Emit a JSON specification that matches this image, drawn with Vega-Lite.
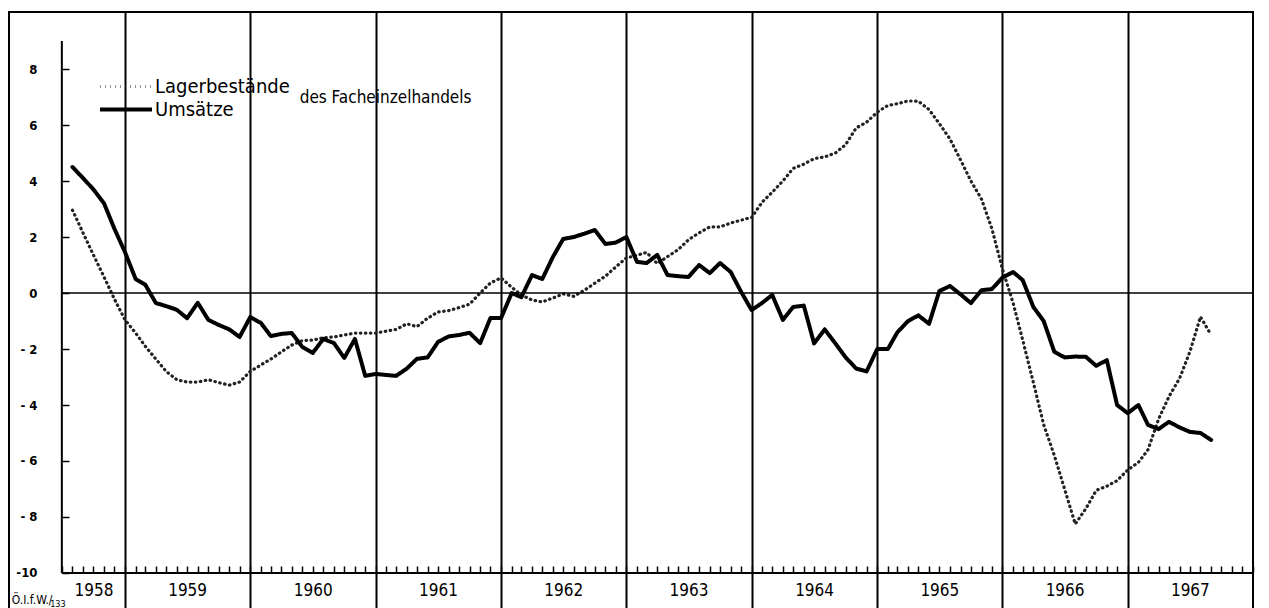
{
  "$schema": "https://vega.github.io/schema/vega-lite/v6.json",
  "width": 1244,
  "height": 600,
  "autosize": "none",
  "padding": {"left": 9, "top": 12, "right": 16, "bottom": 0},
  "background": "white",
  "config": {
    "view": {"stroke": "black", "strokeWidth": 2},
    "text": {"font": "DejaVu Sans Condensed, DejaVu Sans"}
  },
  "datasets": {
    "main": [
      {"date": "1958-08-01", "Lagerbestände": 2.96, "Umsätze": 4.5},
      {"date": "1958-09-01", "Lagerbestände": 2.14, "Umsätze": 4.1},
      {"date": "1958-10-01", "Lagerbestände": 1.36, "Umsätze": 3.7},
      {"date": "1958-11-01", "Lagerbestände": 0.57, "Umsätze": 3.2},
      {"date": "1958-12-01", "Lagerbestände": -0.21, "Umsätze": 2.3},
      {"date": "1959-01-01", "Lagerbestände": -0.96, "Umsätze": 1.46},
      {"date": "1959-02-01", "Lagerbestände": -1.43, "Umsätze": 0.5},
      {"date": "1959-03-01", "Lagerbestände": -1.9, "Umsätze": 0.3},
      {"date": "1959-04-01", "Lagerbestände": -2.36, "Umsätze": -0.36},
      {"date": "1959-05-01", "Lagerbestände": -2.8, "Umsätze": -0.47},
      {"date": "1959-06-01", "Lagerbestände": -3.1, "Umsätze": -0.6},
      {"date": "1959-07-01", "Lagerbestände": -3.18, "Umsätze": -0.9},
      {"date": "1959-08-01", "Lagerbestände": -3.18, "Umsätze": -0.35},
      {"date": "1959-09-01", "Lagerbestände": -3.1, "Umsätze": -0.96},
      {"date": "1959-10-01", "Lagerbestände": -3.2, "Umsätze": -1.14},
      {"date": "1959-11-01", "Lagerbestände": -3.29, "Umsätze": -1.3},
      {"date": "1959-12-01", "Lagerbestände": -3.18, "Umsätze": -1.57},
      {"date": "1960-01-01", "Lagerbestände": -2.8, "Umsätze": -0.86},
      {"date": "1960-02-01", "Lagerbestände": -2.57, "Umsätze": -1.07},
      {"date": "1960-03-01", "Lagerbestände": -2.36, "Umsätze": -1.54},
      {"date": "1960-04-01", "Lagerbestände": -2.1, "Umsätze": -1.46},
      {"date": "1960-05-01", "Lagerbestände": -1.86, "Umsätze": -1.43},
      {"date": "1960-06-01", "Lagerbestände": -1.7, "Umsätze": -1.93},
      {"date": "1960-07-01", "Lagerbestände": -1.68, "Umsätze": -2.14},
      {"date": "1960-08-01", "Lagerbestände": -1.6, "Umsätze": -1.64},
      {"date": "1960-09-01", "Lagerbestände": -1.57, "Umsätze": -1.79},
      {"date": "1960-10-01", "Lagerbestände": -1.5, "Umsätze": -2.32},
      {"date": "1960-11-01", "Lagerbestände": -1.43, "Umsätze": -1.64},
      {"date": "1960-12-01", "Lagerbestände": -1.43, "Umsätze": -2.96},
      {"date": "1961-01-01", "Lagerbestände": -1.43, "Umsätze": -2.89},
      {"date": "1961-02-01", "Lagerbestände": -1.36, "Umsätze": -2.93},
      {"date": "1961-03-01", "Lagerbestände": -1.3, "Umsätze": -2.96},
      {"date": "1961-04-01", "Lagerbestände": -1.1, "Umsätze": -2.7},
      {"date": "1961-05-01", "Lagerbestände": -1.2, "Umsätze": -2.35},
      {"date": "1961-06-01", "Lagerbestände": -0.9, "Umsätze": -2.3},
      {"date": "1961-07-01", "Lagerbestände": -0.68, "Umsätze": -1.75},
      {"date": "1961-08-01", "Lagerbestände": -0.63, "Umsätze": -1.55},
      {"date": "1961-09-01", "Lagerbestände": -0.52, "Umsätze": -1.5},
      {"date": "1961-10-01", "Lagerbestände": -0.4, "Umsätze": -1.42},
      {"date": "1961-11-01", "Lagerbestände": 0.0, "Umsätze": -1.79},
      {"date": "1961-12-01", "Lagerbestände": 0.36, "Umsätze": -0.89},
      {"date": "1962-01-01", "Lagerbestände": 0.54, "Umsätze": -0.89},
      {"date": "1962-02-01", "Lagerbestände": 0.2, "Umsätze": 0.0},
      {"date": "1962-03-01", "Lagerbestände": -0.07, "Umsätze": -0.15},
      {"date": "1962-04-01", "Lagerbestände": -0.25, "Umsätze": 0.64},
      {"date": "1962-05-01", "Lagerbestände": -0.32, "Umsätze": 0.5},
      {"date": "1962-06-01", "Lagerbestände": -0.18, "Umsätze": 1.29},
      {"date": "1962-07-01", "Lagerbestände": -0.03, "Umsätze": 1.93},
      {"date": "1962-08-01", "Lagerbestände": -0.12, "Umsätze": 2.0},
      {"date": "1962-09-01", "Lagerbestände": 0.1, "Umsätze": 2.12},
      {"date": "1962-10-01", "Lagerbestände": 0.35, "Umsätze": 2.25},
      {"date": "1962-11-01", "Lagerbestände": 0.6, "Umsätze": 1.75},
      {"date": "1962-12-01", "Lagerbestände": 0.93, "Umsätze": 1.8},
      {"date": "1963-01-01", "Lagerbestände": 1.25, "Umsätze": 2.0},
      {"date": "1963-02-01", "Lagerbestände": 1.35, "Umsätze": 1.11},
      {"date": "1963-03-01", "Lagerbestände": 1.45, "Umsätze": 1.07},
      {"date": "1963-04-01", "Lagerbestände": 1.05, "Umsätze": 1.36},
      {"date": "1963-05-01", "Lagerbestände": 1.3, "Umsätze": 0.64},
      {"date": "1963-06-01", "Lagerbestände": 1.55, "Umsätze": 0.6},
      {"date": "1963-07-01", "Lagerbestände": 1.9, "Umsätze": 0.57},
      {"date": "1963-08-01", "Lagerbestände": 2.15, "Umsätze": 1.0},
      {"date": "1963-09-01", "Lagerbestände": 2.36, "Umsätze": 0.71},
      {"date": "1963-10-01", "Lagerbestände": 2.36, "Umsätze": 1.07},
      {"date": "1963-11-01", "Lagerbestände": 2.5, "Umsätze": 0.75},
      {"date": "1963-12-01", "Lagerbestände": 2.6, "Umsätze": 0.05},
      {"date": "1964-01-01", "Lagerbestände": 2.7, "Umsätze": -0.61},
      {"date": "1964-02-01", "Lagerbestände": 3.25, "Umsätze": -0.35},
      {"date": "1964-03-01", "Lagerbestände": 3.6, "Umsätze": -0.07},
      {"date": "1964-04-01", "Lagerbestände": 4.0, "Umsätze": -0.96},
      {"date": "1964-05-01", "Lagerbestände": 4.45, "Umsätze": -0.5},
      {"date": "1964-06-01", "Lagerbestände": 4.6, "Umsätze": -0.45},
      {"date": "1964-07-01", "Lagerbestände": 4.8, "Umsätze": -1.8},
      {"date": "1964-08-01", "Lagerbestände": 4.86, "Umsätze": -1.3},
      {"date": "1964-09-01", "Lagerbestände": 5.0, "Umsätze": -1.8},
      {"date": "1964-10-01", "Lagerbestände": 5.3, "Umsätze": -2.3},
      {"date": "1964-11-01", "Lagerbestände": 5.9, "Umsätze": -2.7},
      {"date": "1964-12-01", "Lagerbestände": 6.1, "Umsätze": -2.8},
      {"date": "1965-01-01", "Lagerbestände": 6.46, "Umsätze": -2.0},
      {"date": "1965-02-01", "Lagerbestände": 6.7, "Umsätze": -2.0},
      {"date": "1965-03-01", "Lagerbestände": 6.76, "Umsätze": -1.4},
      {"date": "1965-04-01", "Lagerbestände": 6.86, "Umsätze": -1.0},
      {"date": "1965-05-01", "Lagerbestände": 6.85, "Umsätze": -0.8},
      {"date": "1965-06-01", "Lagerbestände": 6.55, "Umsätze": -1.1},
      {"date": "1965-07-01", "Lagerbestände": 6.05, "Umsätze": 0.07},
      {"date": "1965-08-01", "Lagerbestände": 5.5, "Umsätze": 0.25},
      {"date": "1965-09-01", "Lagerbestände": 4.75, "Umsätze": -0.05},
      {"date": "1965-10-01", "Lagerbestände": 4.0, "Umsätze": -0.36},
      {"date": "1965-11-01", "Lagerbestände": 3.35, "Umsätze": 0.1},
      {"date": "1965-12-01", "Lagerbestände": 2.3, "Umsätze": 0.14},
      {"date": "1966-01-01", "Lagerbestände": 0.85, "Umsätze": 0.55},
      {"date": "1966-02-01", "Lagerbestände": -0.36, "Umsätze": 0.75},
      {"date": "1966-03-01", "Lagerbestände": -1.68, "Umsätze": 0.46},
      {"date": "1966-04-01", "Lagerbestände": -3.2, "Umsätze": -0.5},
      {"date": "1966-05-01", "Lagerbestände": -4.7, "Umsätze": -1.0},
      {"date": "1966-06-01", "Lagerbestände": -5.8, "Umsätze": -2.1},
      {"date": "1966-07-01", "Lagerbestände": -7.0, "Umsätze": -2.3},
      {"date": "1966-08-01", "Lagerbestände": -8.25, "Umsätze": -2.27},
      {"date": "1966-09-01", "Lagerbestände": -7.7, "Umsätze": -2.28},
      {"date": "1966-10-01", "Lagerbestände": -7.05, "Umsätze": -2.6},
      {"date": "1966-11-01", "Lagerbestände": -6.9, "Umsätze": -2.4},
      {"date": "1966-12-01", "Lagerbestände": -6.7, "Umsätze": -4.0},
      {"date": "1967-01-01", "Lagerbestände": -6.32, "Umsätze": -4.29},
      {"date": "1967-02-01", "Lagerbestände": -6.05, "Umsätze": -4.0},
      {"date": "1967-03-01", "Lagerbestände": -5.6, "Umsätze": -4.71},
      {"date": "1967-04-01", "Lagerbestände": -4.5, "Umsätze": -4.86},
      {"date": "1967-05-01", "Lagerbestände": -3.7, "Umsätze": -4.6},
      {"date": "1967-06-01", "Lagerbestände": -3.05, "Umsätze": -4.8},
      {"date": "1967-07-01", "Lagerbestände": -2.1, "Umsätze": -4.96},
      {"date": "1967-08-01", "Lagerbestände": -0.85, "Umsätze": -5.0},
      {"date": "1967-09-01", "Lagerbestände": -1.5, "Umsätze": -5.25}
    ]
  },
  "resolve": {"axis": {"x": "independent"}},
  "layer": [
    {
      "data": {"name": "main"},
      "transform": [{"fold": ["Lagerbestände", "Umsätze"], "as": ["series", "value"]}],
      "mark": {"type": "line", "strokeCap": "round", "strokeJoin": "round"},
      "encoding": {
        "x": {
          "field": "date",
          "type": "temporal",
          "scale": {
            "type": "utc",
            "domain": [
              {"year": 1958, "month": 1, "date": 28, "utc": true},
              {"year": 1968, "month": 1, "date": 1, "utc": true}
            ]
          },
          "axis": {
            "orient": "bottom",
            "offset": -40,
            "title": null,
            "domain": false,
            "grid": false,
            "tickCount": {"interval": "month", "step": 1},
            "tickSize": -6,
            "tickWidth": 1.5,
            "tickColor": "black",
            "tickOpacity": {"condition": {"test": "datum.value < utc(1958,5,28)", "value": 0}, "value": 1},
            "labelExpr": "((utcmonth(datum.value) == 6 && utcyear(datum.value) > 1958) || (utcyear(datum.value) == 1958 && utcmonth(datum.value) == 9)) ? utcFormat(datum.value, '%Y') : ''",
            "labelOverlap": false,
            "labelFlush": false,
            "labelFont": "DejaVu Sans Condensed, DejaVu Sans",
            "labelFontSize": 17,
            "labelColor": "black",
            "labelPadding": 16
          }
        },
        "y": {
          "field": "value",
          "type": "quantitative",
          "scale": {"domain": [-11.393, 10.036], "nice": false, "zero": false},
          "axis": {
            "orient": "left",
            "offset": -53,
            "title": null,
            "domain": false,
            "grid": false,
            "values": [-10, -9, -8, -7, -6, -5, -4, -3, -2, -1, 0, 1, 2, 3, 4, 5, 6, 7, 8, 9],
            "tickSize": -7,
            "tickWidth": 1.5,
            "tickColor": "black",
            "labelExpr": "datum.value % 2 == 0 ? (datum.value == -10 ? '-10' : (datum.value < 0 ? '- ' + abs(datum.value) : '' + datum.value)) : ''",
            "labelFont": "DejaVu Sans Condensed, DejaVu Sans",
            "labelFontSize": 13,
            "labelFontWeight": "bold",
            "labelColor": "black",
            "labelPadding": 32
          }
        },
        "color": {
          "field": "series",
          "type": "nominal",
          "scale": {"domain": ["Lagerbestände", "Umsätze"], "range": ["#222222", "#000000"]},
          "legend": {
            "orient": "none",
            "legendX": 89,
            "legendY": 65,
            "title": null,
            "padding": 0,
            "symbolSize": 2704,
            "clipHeight": 19,
            "rowPadding": 2,
            "labelOffset": 1,
            "labelFont": "DejaVu Sans Condensed, DejaVu Sans",
            "labelFontSize": 20,
            "labelColor": "black"
          }
        },
        "strokeDash": {
          "field": "series",
          "type": "nominal",
          "scale": {"domain": ["Lagerbestände", "Umsätze"], "range": [[0.5, 4.5], [1, 0]]},
          "legend": null
        },
        "strokeWidth": {
          "field": "series",
          "type": "nominal",
          "scale": {"domain": ["Lagerbestände", "Umsätze"], "range": [3.2, 4]},
          "legend": null
        }
      }
    },
    {
      "data": {"values": [{}]},
      "mark": {"type": "rule", "color": "black", "strokeWidth": 2},
      "encoding": {
        "x": {
          "datum": {"year": 1958, "month": 7, "date": 1, "utc": true},
          "type": "temporal",
          "axis": {
            "orient": "top",
            "title": null,
            "values": [
              {"year": 1959, "month": 1, "date": 1, "utc": true},
              {"year": 1960, "month": 1, "date": 1, "utc": true},
              {"year": 1961, "month": 1, "date": 1, "utc": true},
              {"year": 1962, "month": 1, "date": 1, "utc": true},
              {"year": 1963, "month": 1, "date": 1, "utc": true},
              {"year": 1964, "month": 1, "date": 1, "utc": true},
              {"year": 1965, "month": 1, "date": 1, "utc": true},
              {"year": 1966, "month": 1, "date": 1, "utc": true},
              {"year": 1967, "month": 1, "date": 1, "utc": true}
            ],
            "grid": true,
            "gridColor": "black",
            "gridWidth": 2,
            "gridOpacity": 1,
            "ticks": false,
            "labels": false,
            "domain": false
          }
        },
        "x2": {"datum": {"year": 1968, "month": 1, "date": 1, "utc": true}},
        "y": {"datum": -10, "type": "quantitative"}
      }
    },
    {
      "data": {"values": [{}]},
      "mark": {"type": "rule", "color": "black", "strokeWidth": 1.5},
      "encoding": {
        "x": {"datum": {"year": 1958, "month": 7, "date": 1, "utc": true}, "type": "temporal", "axis": null},
        "x2": {"datum": {"year": 1968, "month": 1, "date": 1, "utc": true}},
        "y": {"datum": 0, "type": "quantitative"}
      }
    },
    {
      "data": {"values": [{}]},
      "mark": {"type": "rule", "color": "black", "strokeWidth": 2},
      "encoding": {
        "x": {"datum": {"year": 1958, "month": 7, "date": 1, "utc": true}, "type": "temporal", "axis": null},
        "y": {"datum": -10, "type": "quantitative"},
        "y2": {"datum": 9}
      }
    },
    {
      "data": {"values": [{}]},
      "mark": {"type": "text", "text": "des Facheinzelhandels", "align": "left", "baseline": "middle", "fontSize": 17, "color": "black"},
      "encoding": {
        "x": {"datum": {"year": 1960, "month": 5, "date": 24, "utc": true}, "type": "temporal", "axis": null},
        "y": {"datum": 6.96, "type": "quantitative"}
      }
    },
    {
      "data": {"values": [{}]},
      "mark": {"type": "text", "text": "Ö.I.f.W./", "align": "left", "baseline": "middle", "fontSize": 12, "color": "black"},
      "encoding": {
        "x": {"datum": {"year": 1958, "month": 2, "date": 5, "utc": true}, "type": "temporal", "axis": null},
        "y": {"datum": -10.98, "type": "quantitative"}
      }
    },
    {
      "data": {"values": [{}]},
      "mark": {"type": "text", "text": "133", "align": "left", "baseline": "middle", "fontSize": 9, "color": "black"},
      "encoding": {
        "x": {"datum": {"year": 1958, "month": 5, "date": 28, "utc": true}, "type": "temporal", "axis": null},
        "y": {"datum": -11.12, "type": "quantitative"}
      }
    }
  ]
}
